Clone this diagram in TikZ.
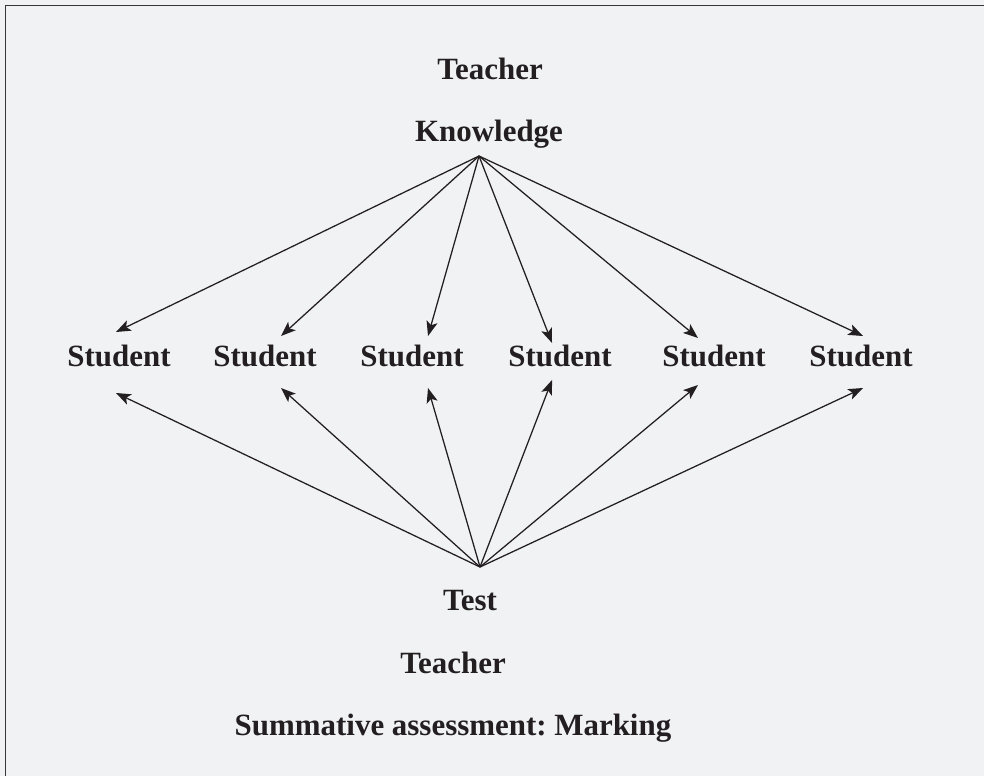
\documentclass[tikz,border=0pt]{standalone}
\usepackage{fontspec}
\setmainfont{Liberation Serif}
\usetikzlibrary{calc,arrows.meta}
\definecolor{bgpanel}{HTML}{F1F2F4}
\definecolor{inkdark}{HTML}{231F20}
\tikzset{
	lbl/.style={font=\fontsize{22pt}{26pt}\selectfont\bfseries\frenchspacing, text=inkdark, inner sep=0pt, anchor=base},
	arr/.style={draw=inkdark, line width=0.9pt, -{Stealth[length=10.5pt,width=8pt,inset=2.5pt]}}
}

\begin{document}
\begin{tikzpicture}[x=0.025cm, y=-0.025cm]
			%%%%% START %%%%%
			
			\useasboundingbox (0, 0) rectangle (984, 776);
			\fill[bgpanel] (0, 0) rectangle (984, 776);
			\draw[line width=1.1pt, color=inkdark!90] (5.5, 776) -- (5.5, 5.5) -- (984, 5.5);
			
			\node[lbl] (teachtop) at (490, 79) {Teacher};
			\node[lbl] (know) at (489, 141) {Knowledge};
			\coordinate (kn) at (479, 156);
			
			\node[lbl] (s1) at (119, 366) {Student};
			\node[lbl] (s2) at (265, 366) {Student};
			\node[lbl] (s3) at (412, 366) {Student};
			\node[lbl] (s4) at (560, 366) {Student};
			\node[lbl] (s5) at (714, 366) {Student};
			\node[lbl] (s6) at (861, 366) {Student};
			
			\coordinate (ts) at (480, 567);
			\node[lbl] (test) at (470, 610) {Test};
			\node[lbl] (teachbot) at (453, 673) {Teacher};
			\node[lbl] (marking) at (453, 735) {Summative assessment: Marking};
			
			\foreach \s/\dx/\up/\dn in {s1/-3/34/27, s2/16/30/22, s3/16/30/22, s4/-8/23/14, s5/-16/28/19, s6/2/30/22} {
				\draw[arr] (kn) -- ($(\s.base)+(\dx, -\up)$);
				\draw[arr] (ts) -- ($(\s.base)+(\dx, \dn)$);
			}
			
			%%%%% END %%%%%
		\end{tikzpicture}
\end{document}
